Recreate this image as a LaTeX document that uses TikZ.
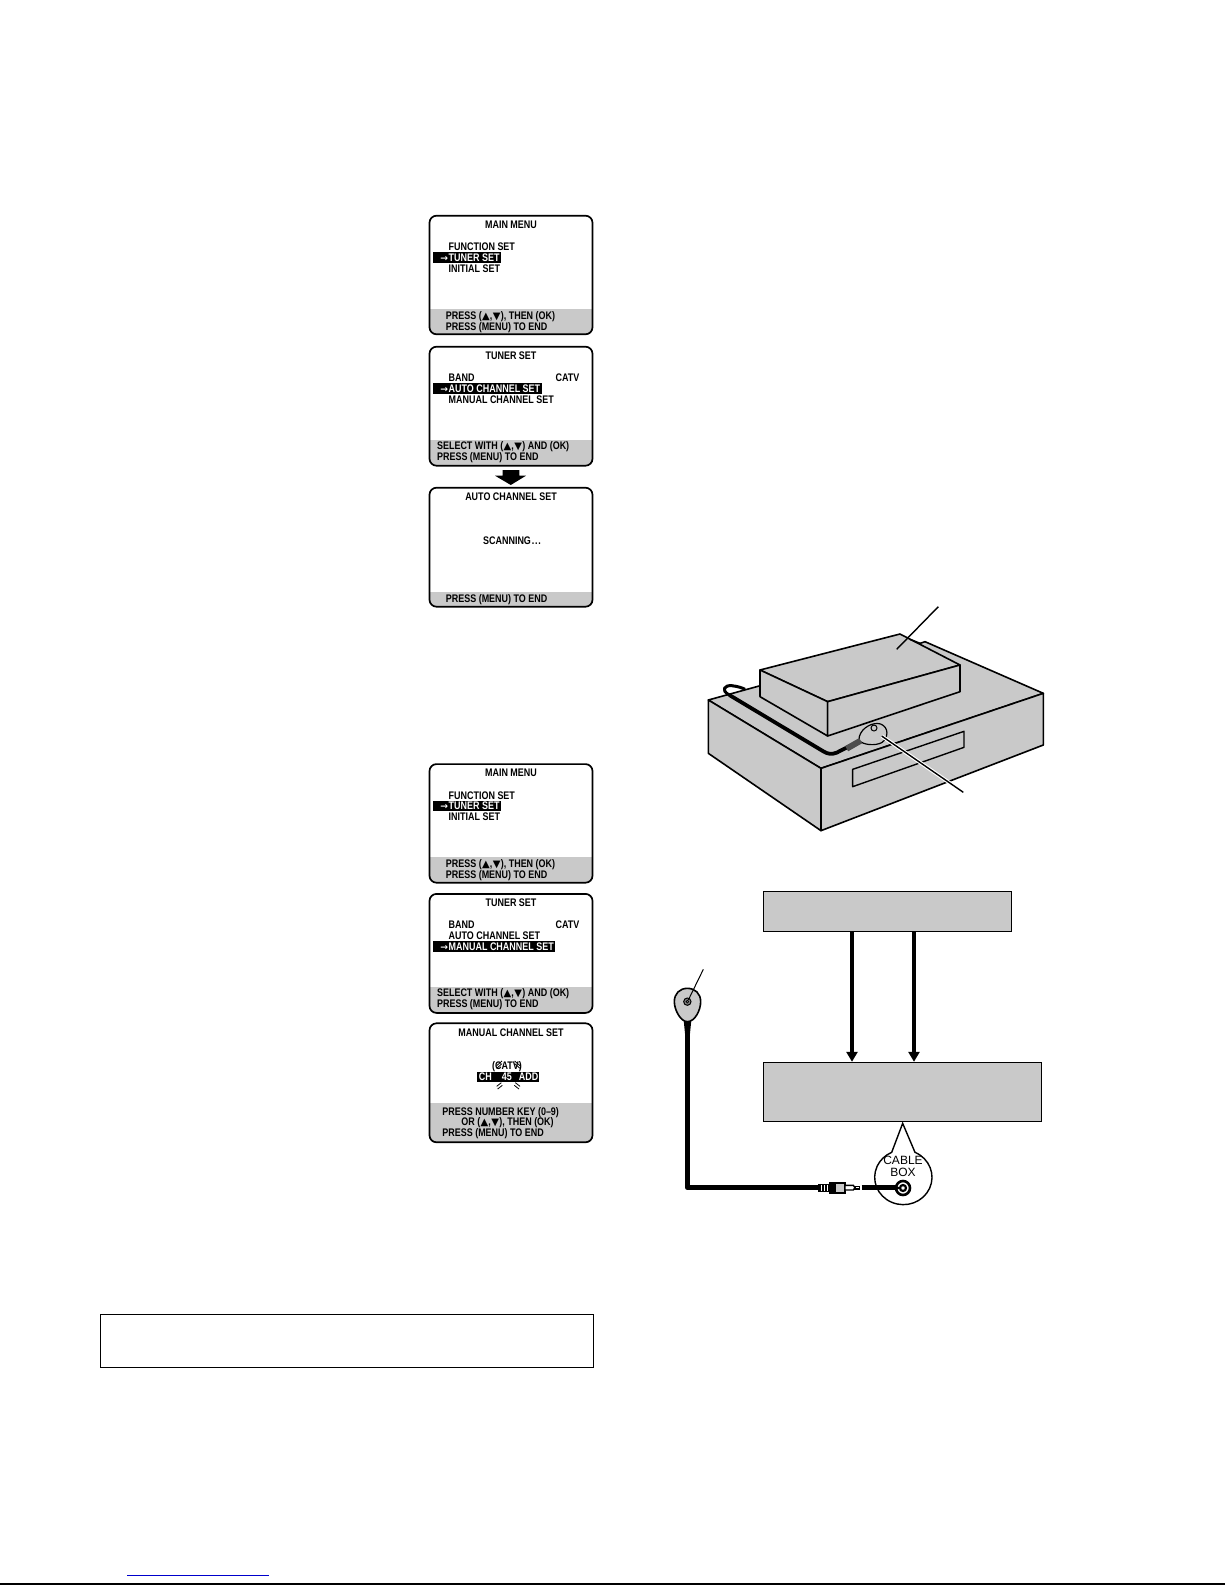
\documentclass[tikz,border=0pt]{standalone}
\usepackage{fontspec}
\setmainfont{Liberation Sans}
\newfontfamily\menufont[FakeStretch=0.815]{Liberation Sans}
\newfontfamily\symfont{DejaVu Sans}
\definecolor{band}{HTML}{C9C9C9}
\definecolor{linkblue}{HTML}{0000CC}
\usetikzlibrary{arrows.meta}
\newcommand{\tri}[1]{{\symfont\fontsize{5}{6}\selectfont #1}}
\newcommand{\updown}{(\kern0.2pt\tri{▲},\kern0.2pt\tri{▼}\kern0.2pt)}
\newcommand{\arr}{\makebox[4.15pt][l]{\symfont\bfseries\fontsize{4.6}{6}\selectfont →}}
\tikzset{
  mt/.style={inner sep=0pt,anchor=base west,font=\menufont\bfseries\fontsize{5.5}{6}\selectfont},
  mc/.style={inner sep=0pt,anchor=base,font=\menufont\bfseries\fontsize{5.5}{6}\selectfont},
  inv/.style={mt,text=white},
  bar/.style={fill=black,draw=none},
  frame/.style={draw=black,line width=0.85pt,rounded corners=3.5pt},
  gbox/.style={draw=black,line width=0.5pt,fill=band,inner sep=0pt},
  part/.style={draw=black,line width=0.8pt,fill=band,line join=round},
  leader/.style={draw=black,line width=0.7pt},
  cord/.style={draw=black,line width=2.4pt,line join=round},
  flow/.style={draw=black,line width=1.6pt,-{Triangle[length=5pt,width=5.5pt]}},
}
\newcommand{\screen}[3]{%
  \begin{scope}
    \clip[rounded corners=3.5pt] (429.5,#1) rectangle (592.5,#2);
    \fill[band] (429.5,#3) rectangle (592.5,#2);
  \end{scope}
  \draw[frame] (429.5,#1) rectangle (592.5,#2);
}
\newcommand{\menuone}[1]{%
  \screen{215.7}{334.3}{308.5}
  \node[mc] (#1title) at (511,228.2) {MAIN MENU};
  \node[mt] (#1a) at (448.3,250.6) {FUNCTION SET};
  \fill[bar] (433.3,252.3) rectangle (501,262.7);
  \node[inv] (#1b) at (440,261.3) {\arr TUNER SET};
  \node[mt] (#1c) at (448.3,272.2) {INITIAL SET};
  \node[mt] (#1d) at (445.5,319.5) {PRESS \updown, THEN (OK)};
  \node[mt] (#1e) at (445.5,330) {PRESS (MENU) TO END};
}
\newcommand{\tunertop}[1]{%
  \screen{346.7}{465.7}{439.5}
  \node[mc] (#1t) at (511,359.5) {TUNER SET};
  \node[mt] (#1a) at (448.3,381.3) {BAND};
  \node[mt] (#1b) at (555.3,381.3) {CATV};
  \node[mt] (#1c) at (436.7,449.7) {SELECT WITH \updown\ AND (OK)};
  \node[mt] (#1d) at (436.7,460.7) {PRESS (MENU) TO END};
}
\begin{document}
\begin{tikzpicture}[x=0.5pt,y=-0.5pt]
\useasboundingbox (0,0) rectangle (1225,1585);
\fill[white] (0,0) rectangle (1225,1585);

% screen 1
\menuone{sa}
% screen 2
\tunertop{sb}
\fill[bar] (433.3,383) rectangle (541.7,393.7);
\node[inv] (sb3) at (440,392.3) {\arr AUTO CHANNEL SET};
\node[mt] (sb4) at (448.3,403) {MANUAL CHANNEL SET};
% arrow
\fill[black] (502.7,470) -- (519.3,470) -- (519.3,475.7) -- (526,475.7) -- (510.8,485) -- (495,475.7) -- (502.7,475.7) -- cycle;
% screen 3
\screen{487.7}{606.7}{592}
\node[mc] (sct) at (511,500.2) {AUTO CHANNEL SET};
\node[mc] (sc1) at (512,544.3) {SCANNING\kern0.4pt.\kern0.4pt.\kern0.4pt.};
\node[mt] (sc2) at (445.5,602.3) {PRESS (MENU) TO END};

% screen 4
\begin{scope}[yshift=-274.2pt]
\menuone{sd}
\end{scope}
% screen 5
\begin{scope}[yshift=-273.6pt]
\tunertop{se}
\node[mt] (se3) at (448.3,392.3) {AUTO CHANNEL SET};
\fill[bar] (433.3,393.7) rectangle (555,404.3);
\node[inv] (se4) at (440,403) {\arr MANUAL CHANNEL SET};
\end{scope}
% screen 6
\screen{1023.3}{1142.3}{1103.3}
\node[mc] (sft) at (511,1036.8) {MANUAL CHANNEL SET};
\node[mc] (sf1) at (507,1069) {(CATV)};
\fill[bar] (476.7,1071.7) rectangle (539.3,1081.7);
\node[inv] (sf2) at (478.5,1080.3) {CH};
\node[inv] (sf3) at (501.5,1080.3) {45};
\node[inv] (sf4) at (518.5,1080.3) {ADD};
\node[mt] (sf5) at (442,1115) {PRESS NUMBER KEY (0–9)};
\node[mt] (sf6) at (461,1125.7) {OR \updown, THEN (OK)};
\node[mt] (sf7) at (442,1136.3) {PRESS (MENU) TO END};
\begin{scope}[shift={(420,1015)},scale=1/3,line width=0.4pt]
  \draw (230,152) -- (246,138) (230,160) -- (246,146);
  \draw (284,138) -- (300,152) (284,146) -- (300,160);
  \draw (230,214) -- (244,203) (233,222) -- (247,211);
  \draw (286,203) -- (300,214) (283,211) -- (297,222);
\end{scope}

% note box
\node[draw=black,line width=0.5pt,minimum width=246.5pt,minimum height=26.7pt,inner sep=0pt] (note) at (346.5,1340.7) {};

% VCR illustration
\begin{scope}[shift={(690,590)},scale=1/3]
  \draw[part] (55,330) -- (200,290) -- (690,160) -- (705,155) -- (1060,310) -- (393,535) -- cycle;
  \draw[part] (55,330) -- (393,535) -- (393,722) -- (55,490) -- cycle;
  \draw[part] (393,535) -- (1060,310) -- (1060,465) -- (393,722) -- cycle;
  \draw[part,line width=0.7pt] (488,538) -- (822,424) -- (822,472) -- (488,590) -- cycle;
  % cord
  \draw[cord,line width=1.9pt] (505,455) -- (440,488) .. controls (425,494) and (412,492) .. (400,484) -- (118,315);
  \draw[cord,line width=1.5pt] (118,315) .. controls (90,300) and (105,285) .. (125,287) .. controls (145,289) and (160,295) .. (165,298);
  % upper box
  \draw[part] (210,240) -- (630,132) -- (810,225) -- (413,335) -- cycle;
  \draw[part] (210,240) -- (413,335) -- (413,438) -- (210,320) -- cycle;
  \draw[part] (413,335) -- (810,225) -- (810,305) -- (413,438) -- cycle;
  \draw[black,line width=0.8pt] (660,148) -- (690,160);
  % eye
  \draw[part,line width=0.6pt] (508,440) .. controls (515,412) and (550,395) .. (572,402) .. controls (598,412) and (595,445) .. (575,458) .. controls (555,468) and (520,465) .. (508,452) -- cycle;
  \draw[line width=0.5pt,fill=band] (552,414) circle (9);
  \draw[line width=3pt,draw=black!70] (512,452) -- (470,476);
  % leaders
  \coordinate (l1a) at (745,50);
  \coordinate (l1b) at (620,178);
  \coordinate (l2a) at (575,438);
  \coordinate (l2b) at (820,607);
  \draw[leader] (l1a) -- (l1b);
  \draw[white,line width=1.8pt] (l2a) -- (l2b);
  \draw[leader] (l2a) -- (l2b);
\end{scope}

% block diagram
\node[gbox,minimum width=124pt,minimum height=20pt] (upper) at (887.5,911.7) {};
\node[gbox,minimum width=139pt,minimum height=29.7pt] (lower) at (902.5,1092) {};
\coordinate (ua) at (852,932);
\coordinate (ub) at (914,932);
\draw[flow] (ua) -- (ua |- lower.north);
\draw[flow] (ub) -- (ub |- lower.north);

% sensor
\begin{scope}[shift={(660,950)},scale=1/3]
  \coordinate (eyetip) at (85,150);
  \coordinate (eyeend) at (130,58);
  \draw[cord,line width=2.5pt] (82,235) -- (82,713) -- (480,713);
  \fill[black] (71,210) -- (94,210) -- (90,250) -- (75,250) -- cycle;
  \draw[part,line width=0.8pt] (82,115) .. controls (105,115) and (122,130) .. (122,155) .. controls (122,180) and (105,215) .. (82,215) .. controls (62,215) and (43,180) .. (43,155) .. controls (43,130) and (60,115) .. (82,115) -- cycle;
  \draw[line width=0.5pt,fill=black!50] (82,155) circle (11);
  \draw[line width=0.4pt,fill=band] (82,155) circle (4);
  \draw[leader,line width=0.5pt] (eyeend) -- (eyetip);
\end{scope}

% plug, jack, callout
\begin{scope}[shift={(800,1110)},scale=1/3]
  \draw[line width=0.7pt,fill=white] (345,127) arc[start angle=-66,end angle=246,x radius=86,y radius=82] -- (308,40) -- cycle;
  \draw[cord,line width=2.4pt] (185,233) -- (292,233);
  \draw[line width=1.3pt,fill=white] (309,234) circle (21);
  \draw[line width=1.1pt,fill=white] (309,234) circle (9);
  \fill[black] (287,226) -- (301,234) -- (287,242) -- cycle;
  \node[inner sep=0pt,font=\fontsize{6}{6.5}\selectfont,anchor=base] (cb1) at (309,164) {CABLE};
  \node[inner sep=0pt,font=\fontsize{6}{6.5}\selectfont,anchor=base] (cb2) at (309,198) {BOX};
  % plug
  \fill[black] (0,228) rectangle (62,238);
  \fill[black] (55,222) rectangle (88,246);
  \draw[white,line width=0.4pt] (65,224) -- (65,244) (73,224) -- (73,244) (81,224) -- (81,244);
  \draw[line width=0.6pt,fill=black] (88,219) rectangle (105,249);
  \draw[line width=0.7pt,fill=band] (105,219) rectangle (135,249);
  \draw[line width=0.7pt,fill=white] (135,226) -- (160,226) -- (165,233) -- (160,240) -- (135,240) -- cycle;
  \draw[line width=0.7pt,fill=white] (165,229) rectangle (178,237);
\end{scope}

% footer rules
\draw[linkblue,line width=0.5pt] (127,1575) -- (268.7,1575);
\draw[black,line width=0.7pt] (0,1584) -- (1225,1584);
\end{tikzpicture}
\end{document}
